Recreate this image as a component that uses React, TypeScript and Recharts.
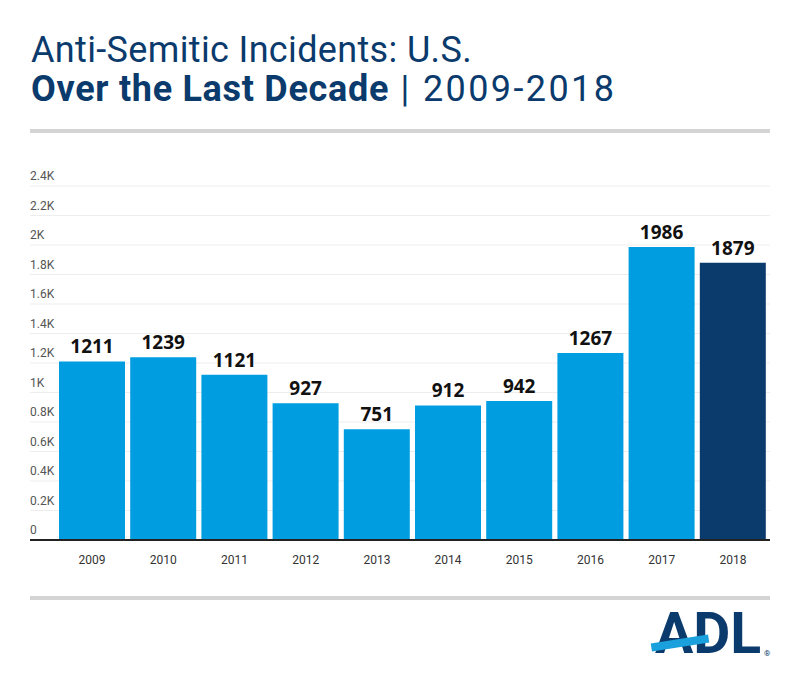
import { BarChart, Bar, XAxis, YAxis, CartesianGrid, LabelList, Cell } from 'recharts'

// Incidents per year (ADL audit)
const years = ['2009', '2010', '2011', '2012', '2013', '2014', '2015', '2016', '2017', '2018']
const incidents = [1211, 1239, 1121, 927, 751, 912, 942, 1267, 1986, 1879]
const yTicks = [0, 200, 400, 600, 800, 1000, 1200, 1400, 1600, 1800, 2000, 2200, 2400]

const data = years.map((y, i) => ({ year: y, value: incidents[i] }))

const NAVY = '#0b3a6c'
const BLUE = '#009ee0'
const FONT = 'Roboto, "Noto Sans", sans-serif'

const fmtK = (v: number) => (v === 0 ? '0' : `${v / 1000}K`)

const YTick = (props: any) => {
  const { y, payload } = props
  return (
    <text x={30} y={y - 6} textAnchor="start" fontSize={12} fill="#555" fontFamily={FONT}>
      {fmtK(payload.value)}
    </text>
  )
}

export default function App() {
  return (
    <div style={{ position: 'absolute', left: 0, top: 0, width: 800, height: 676, background: '#fff', overflow: 'hidden' }}>
      <div style={{ position: 'absolute', left: 31, top: 31, color: NAVY, fontFamily: FONT, fontSize: 36, lineHeight: '39px', whiteSpace: 'nowrap' }}>
        <div style={{ letterSpacing: 0.35 }}>Anti-Semitic Incidents: U.S.</div>
        <div>
          <span style={{ fontWeight: 700, letterSpacing: 0.7 }}>Over the Last Decade</span>
          <span style={{ letterSpacing: 2.4 }}> | 2009-2018</span>
        </div>
      </div>
      <div style={{ position: 'absolute', left: 30, top: 129, width: 740, height: 4, background: '#d4d4d4' }} />

      <div style={{ position: 'absolute', left: 0, top: 0 }}>
        <BarChart
          width={800}
          height={580}
          data={data}
          barCategoryGap={2.5}
          margin={{ top: 186, right: 30, left: 29, bottom: 10 }}
        >
          <CartesianGrid vertical={false} stroke="#ededed" />
          <YAxis
            width={1}
            domain={[0, 2400]}
            ticks={yTicks}
            interval={0}
            axisLine={false}
            tickLine={false}
            tick={(p: any) => <YTick {...p} />}
          />
          <XAxis
            dataKey="year"
            height={30}
            padding={{ left: 26.5, right: 1.5 }}
            axisLine={{ stroke: '#222', strokeWidth: 2 }}
            tickLine={false}
            tickMargin={9}
            tick={{ fontSize: 12, fill: '#333', fontFamily: FONT }}
          />
          <Bar dataKey="value" isAnimationActive={false}>
            {data.map((d, i) => (
              <Cell key={d.year} fill={i === data.length - 1 ? NAVY : BLUE} />
            ))}
            <LabelList
              dataKey="value"
              position="top"
              offset={8}
              style={{ fontSize: 19, fontWeight: 700, fill: '#111', fontFamily: '"Open Sans", sans-serif' }}
            />
          </Bar>
        </BarChart>
      </div>

      <div style={{ position: 'absolute', left: 30, top: 596, width: 740, height: 4, background: '#d4d4d4' }} />

      {/* ADL logo */}
      <div style={{ position: 'absolute', left: 655, top: 603, width: 120, height: 62 }}>
        <div style={{ fontFamily: FONT, fontWeight: 700, fontSize: 57, lineHeight: '62px', color: NAVY, letterSpacing: 0 }}>
          ADL
        </div>
        <div style={{ position: 'absolute', left: -4, top: 36, width: 58, height: 8, background: '#1aa0dc', transform: 'rotate(-9deg)' }} />
        <div style={{ position: 'absolute', left: 109, top: 46, fontSize: 8, color: NAVY, fontFamily: FONT }}>®</div>
      </div>
    </div>
  )
}
